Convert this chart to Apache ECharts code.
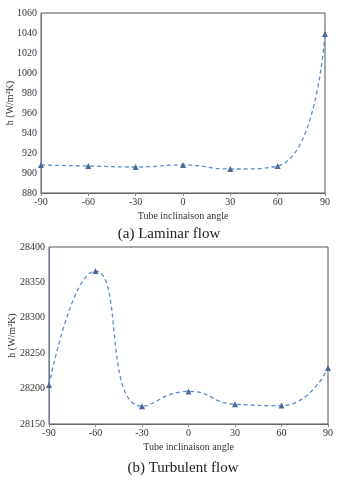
<!DOCTYPE html>
<html>
<head>
	<meta charset="utf-8" />
	<title>Tube inclinaison</title>
	<script src="https://cdn.jsdelivr.net/npm/echarts@6/dist/echarts.min.js"></script>
	<style>
		html, body {margin:0;padding:0;background:#fff;}
		#chart {width:338px;height:480px;}
	</style>
</head>
<body>
	<div id="chart"></div>
	<script>
		// angles (deg)
		var angles = [-90, -60, -30, 0, 30, 60, 90];
		// h (W/m2K)
		var laminar = [908, 907, 906, 908, 904, 907, 1039];
		var turbulent = [28205, 28366, 28175, 28196, 28178, 28176, 28229];

		var lineColor = '#5a8ccc';
		var markColor = '#4a6a9a';
		var font = 'Liberation Serif';

		function pairs(ys) {
			return angles.map((a, i) => [a, ys[i]]);
		}

		var chart = echarts.init(document.getElementById('chart'));

		function xAxis(idx) {
			return {
				gridIndex: idx,
				type: 'value',
				min: -90, max: 90, interval: 30,
				name: 'Tube inclinaison angle',
				nameLocation: 'middle',
				nameGap: 18,
				nameMoveOverlap: false,
				nameTextStyle: {fontFamily: font, fontSize: 10, color: '#333'},
				axisLine: {onZero: false, lineStyle: {color: '#666'}},
				axisTick: {show: true, length: 3, lineStyle: {color: '#888'}},
				axisLabel: {fontFamily: font, fontSize: 10, color: '#333', margin: 4},
				splitLine: {show: false}
			};
		}

		function yAxis(idx, min, max, step, gap) {
			return {
				gridIndex: idx,
				type: 'value',
				min: min, max: max, interval: step,
				name: 'h (W/m²K)',
				nameLocation: 'middle',
				nameGap: gap,
				nameMoveOverlap: false,
				nameTextStyle: {fontFamily: font, fontSize: 10, color: '#333'},
				axisLine: {show: true, onZero: false, lineStyle: {color: '#6a7fa0'}},
				axisTick: {show: false},
				axisLabel: {fontFamily: font, fontSize: 10, color: '#333', margin: 4,
					formatter: v => String(v)},
				splitLine: {show: false}
			};
		}

		function series(idx, ys) {
			return {
				type: 'line',
				xAxisIndex: idx,
				yAxisIndex: idx,
				data: pairs(ys),
				smooth: 0.55,
				symbol: 'triangle',
				symbolSize: 6,
				itemStyle: {color: markColor},
				lineStyle: {color: lineColor, width: 1.3, type: [4, 3]}
			};
		}

		chart.setOption({
			animation: false,
			textStyle: {fontFamily: font},
			title: [
				{text: '(a) Laminar flow', left: 'center', top: 222,
				 textStyle: {fontFamily: font, fontSize: 15, fontWeight: 'normal', color: '#222'}},
				{text: '(b) Turbulent flow', left: 178, textAlign: 'center', top: 456,
				 textStyle: {fontFamily: font, fontSize: 15, fontWeight: 'normal', color: '#222'}}
			],
			grid: [
				{left: 41, right: 13, top: 13, bottom: 287, containLabel: false, outerBoundsMode: 'none',
				 show: true, borderColor: '#555', borderWidth: 1},
				{left: 49, right: 10, top: 247, bottom: 56, containLabel: false, outerBoundsMode: 'none',
				 show: true, borderColor: '#555', borderWidth: 1}
			],
			xAxis: [xAxis(0), xAxis(1)],
			yAxis: [yAxis(0, 880, 1060, 20, 26), yAxis(1, 28150, 28400, 50, 32)],
			series: [series(0, laminar), series(1, turbulent)]
		});
	</script>
</body>
</html>
